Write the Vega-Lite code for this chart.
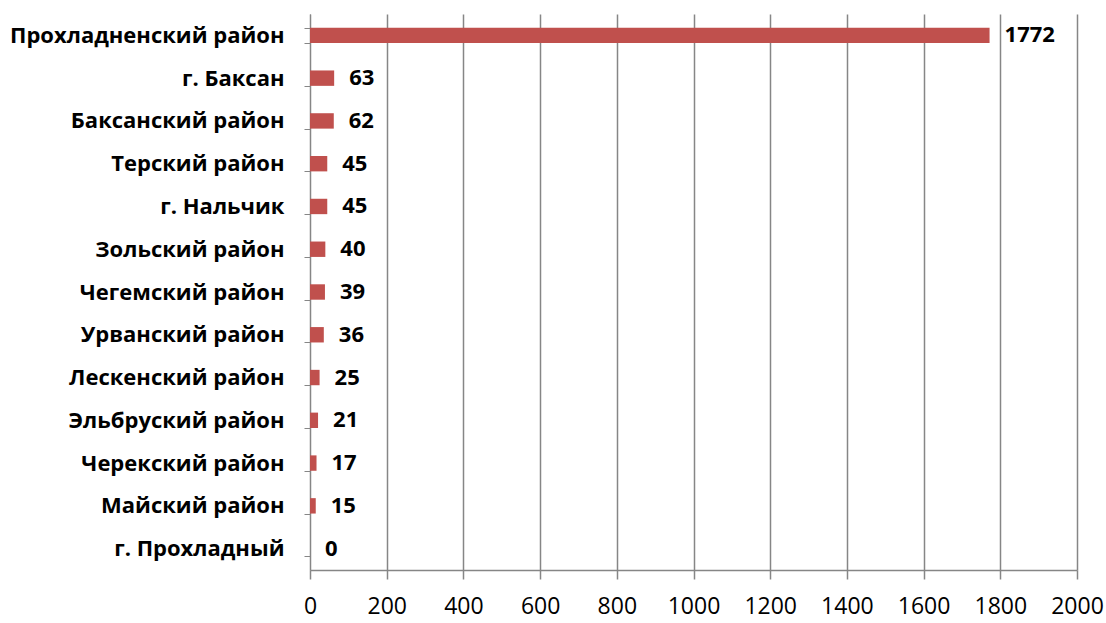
{
  "$schema": "https://vega.github.io/schema/vega-lite/v6.json",
  "autosize": {"type": "none"},
  "padding": {"left": 310, "top": 14, "right": 29, "bottom": 53},
  "width": 767,
  "height": 556,
  "background": "white",
  "data": {"values": [
    {"area": "Прохладненский район", "value": 1772},
    {"area": "г. Баксан", "value": 63},
    {"area": "Баксанский район", "value": 62},
    {"area": "Терский район", "value": 45},
    {"area": "г. Нальчик", "value": 45},
    {"area": "Зольский район", "value": 40},
    {"area": "Чегемский район", "value": 39},
    {"area": "Урванский район", "value": 36},
    {"area": "Лескенский район", "value": 25},
    {"area": "Эльбруский район", "value": 21},
    {"area": "Черекский район", "value": 17},
    {"area": "Майский район", "value": 15},
    {"area": "г. Прохладный", "value": 0}
  ]},
  "config": {
    "view": {"stroke": null},
    "font": "Open Sans"
  },
  "encoding": {
    "y": {
      "field": "area", "type": "nominal", "sort": null,
      "scale": {"paddingInner": 0.64, "paddingOuter": 0.32},
      "axis": {
        "title": null, "grid": false, "tickBand": "extent",
        "domainColor": "#868686", "tickColor": "#868686", "tickSize": 6,
        "labelFont": "Open Sans", "labelFontWeight": "bold", "labelFontSize": 22,
        "labelColor": "#000000", "labelPadding": 20, "labelLimit": 400
      }
    },
    "x": {
      "field": "value", "type": "quantitative",
      "scale": {"domain": [0, 2000], "nice": false},
      "axis": {
        "title": null, "values": [0,200,400,600,800,1000,1200,1400,1600,1800,2000],
        "format": "d",
        "grid": true, "gridColor": "#868686", "gridWidth": 1.5,
        "domainColor": "#868686", "domainWidth": 1.5, "tickColor": "#868686", "tickWidth": 1.5, "tickSize": 9,
        "labelFont": "Open Sans", "labelFontSize": 23, "labelColor": "#000000", "labelPadding": 16,
        "labelFlush": false
      }
    }
  },
  "layer": [
    {"mark": {"type": "bar", "color": "#C0504D"}},
    {
      "mark": {"type": "text", "align": "left", "dx": 15, "fontWeight": "bold", "fontSize": 22, "color": "#000000", "font": "Open Sans"},
      "encoding": {"text": {"field": "value", "type": "quantitative"}}
    }
  ]
}
